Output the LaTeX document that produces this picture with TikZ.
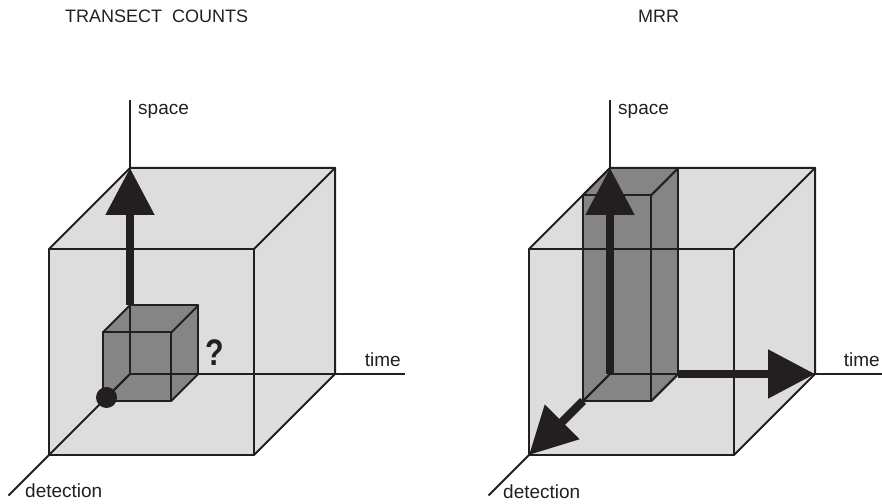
\documentclass[tikz,border=0pt]{standalone}
\usepackage{fontspec}
\setmainfont{Liberation Sans}
\usetikzlibrary{arrows.meta}
\definecolor{lightc}{HTML}{DDDDDD}
\definecolor{darkc}{HTML}{858585}
\definecolor{linec}{HTML}{231F20}
\begin{document}
\begin{tikzpicture}[
 x=1pt,y=1pt,
 edge/.style={draw=linec, line width=2pt, line join=round, line cap=round},
 axisline/.style={draw=linec, line width=1.8pt},
 bigarrow/.style={draw=linec, line width=8.3pt, -{Triangle[width=47pt,length=47pt]}},
 lbl/.style={font=\fontsize{19}{22}\selectfont, text=linec, inner sep=0pt},
 ttl/.style={font=\fontsize{18}{22}\selectfont, text=linec, inner sep=0pt},
 qmark/.style={font=\fontsize{37}{40}\selectfont\bfseries, text=linec, inner sep=0pt},
]
\useasboundingbox (0,0) rectangle (882,503);
\fill[white] (0,0) rectangle (882,503);

% ---------------- left: transect counts ----------------
\begin{scope}[shift={(130pt,129pt)}, x={(205pt,0pt)}, y={(0pt,206pt)}, z={(-81pt,-81pt)}]
 \coordinate (LO) at (0,0,0);
 \coordinate (Lx) at (1,0,0);
 \coordinate (Ly) at (0,1,0);
 \coordinate (Lz) at (0,0,1);
 \coordinate (Lxy) at (1,1,0);
 \coordinate (Lxz) at (1,0,1);
 \coordinate (Lyz) at (0,1,1);
 \coordinate (Lxyz) at (1,1,1);
 \coordinate (LsE) at (0,1.33,0);
 \coordinate (LtE) at (1.342,0,0);
 \coordinate (LdE) at (0,0,1.5);
 % small cube
 \coordinate (La) at (0,0,0);
 \coordinate (Lb) at (1/3,0,0);
 \coordinate (Lc) at (1/3,1/3,0);
 \coordinate (Ld) at (0,1/3,0);
 \coordinate (Le) at (0,0,1/3);
 \coordinate (Lf) at (1/3,0,1/3);
 \coordinate (Lg) at (1/3,1/3,1/3);
 \coordinate (Lh) at (0,1/3,1/3);
 \coordinate (Ldot) at (0,0,0.29);

 \fill[lightc] (Lz) -- (Lxz) -- (Lx) -- (Lxy) -- (Ly) -- (Lyz) -- cycle;
 \fill[darkc] (Le) -- (Lf) -- (Lb) -- (Lc) -- (Ld) -- (Lh) -- cycle;
 \draw[axisline] (LO) -- (LsE);
 \draw[axisline] (LO) -- (LtE);
 \draw[axisline] (LO) -- (LdE);
 \draw[edge] (La) -- (Lb) -- (Lc) -- (Ld) -- cycle;
 \draw[edge] (Le) -- (Lf) -- (Lg) -- (Lh) -- cycle;
 \draw[edge] (La) -- (Le) (Lb) -- (Lf) (Lc) -- (Lg) (Ld) -- (Lh);
 \draw[edge] (Lz) -- (Lxz) -- (Lxyz) -- (Lyz) -- cycle;
 \draw[edge] (Lyz) -- (Ly) -- (Lxy) -- (Lxyz);
 \draw[edge] (Lxy) -- (Lx) -- (Lxz);
 \draw[bigarrow] (Ld) -- (Ly);
 \fill[linec] (Ldot) circle[radius=10.5pt];
\end{scope}

\node[ttl, anchor=base west] (t1) at (65,480) {TRANSECT\ \ COUNTS};
\node[lbl, anchor=base west] (ls) at (138,388) {space};
\node[lbl, anchor=base east] (lt) at (401,136) {time};
\node[lbl, anchor=base west] (ld) at (25,6) {detection};
\node[qmark, anchor=base west] (q) at (205,137) {\scalebox{0.82}[1]{?}};

% ---------------- right: MRR ----------------
\begin{scope}[shift={(610pt,129pt)}, x={(205pt,0pt)}, y={(0pt,206pt)}, z={(-81pt,-81pt)}]
 \coordinate (RO) at (0,0,0);
 \coordinate (Rx) at (1,0,0);
 \coordinate (Ry) at (0,1,0);
 \coordinate (Rz) at (0,0,1);
 \coordinate (Rxy) at (1,1,0);
 \coordinate (Rxz) at (1,0,1);
 \coordinate (Ryz) at (0,1,1);
 \coordinate (Rxyz) at (1,1,1);
 \coordinate (RsE) at (0,1.33,0);
 \coordinate (RtE) at (1.33,0,0);
 \coordinate (RdE) at (0,0,1.5);
 % tall box
 \coordinate (Ra) at (0,0,0);
 \coordinate (Rb) at (1/3,0,0);
 \coordinate (Rc) at (1/3,1,0);
 \coordinate (Rd) at (0,1,0);
 \coordinate (Re) at (0,0,1/3);
 \coordinate (Rf) at (1/3,0,1/3);
 \coordinate (Rg) at (1/3,1,1/3);
 \coordinate (Rh) at (0,1,1/3);

 \fill[lightc] (Rz) -- (Rxz) -- (Rx) -- (Rxy) -- (Ry) -- (Ryz) -- cycle;
 \fill[darkc] (Re) -- (Rf) -- (Rb) -- (Rc) -- (Rd) -- (Rh) -- cycle;
 \draw[axisline] (RO) -- (RsE);
 \draw[axisline] (RO) -- (RtE);
 \draw[axisline] (RO) -- (RdE);
 \draw[edge] (Ra) -- (Rb) -- (Rc) -- (Rd) -- cycle;
 \draw[edge] (Re) -- (Rf) -- (Rg) -- (Rh) -- cycle;
 \draw[edge] (Ra) -- (Re) (Rb) -- (Rf) (Rc) -- (Rg) (Rd) -- (Rh);
 \draw[edge] (Rz) -- (Rxz) -- (Rxyz) -- (Ryz) -- cycle;
 \draw[edge] (Ryz) -- (Ry) -- (Rxy) -- (Rxyz);
 \draw[edge] (Rxy) -- (Rx) -- (Rxz);
 \draw[bigarrow] (RO) -- (Ry);
 \draw[bigarrow] (Rb) -- (Rx);
 \draw[bigarrow] (Re) -- (Rz);
\end{scope}

\node[ttl, anchor=base west] (t2) at (638,480) {MRR};
\node[lbl, anchor=base west] (rs) at (618,388) {space};
\node[lbl, anchor=base east] (rt) at (880,136) {time};
\node[lbl, anchor=base west] (rd) at (503,5) {detection};
\end{tikzpicture}
\end{document}
